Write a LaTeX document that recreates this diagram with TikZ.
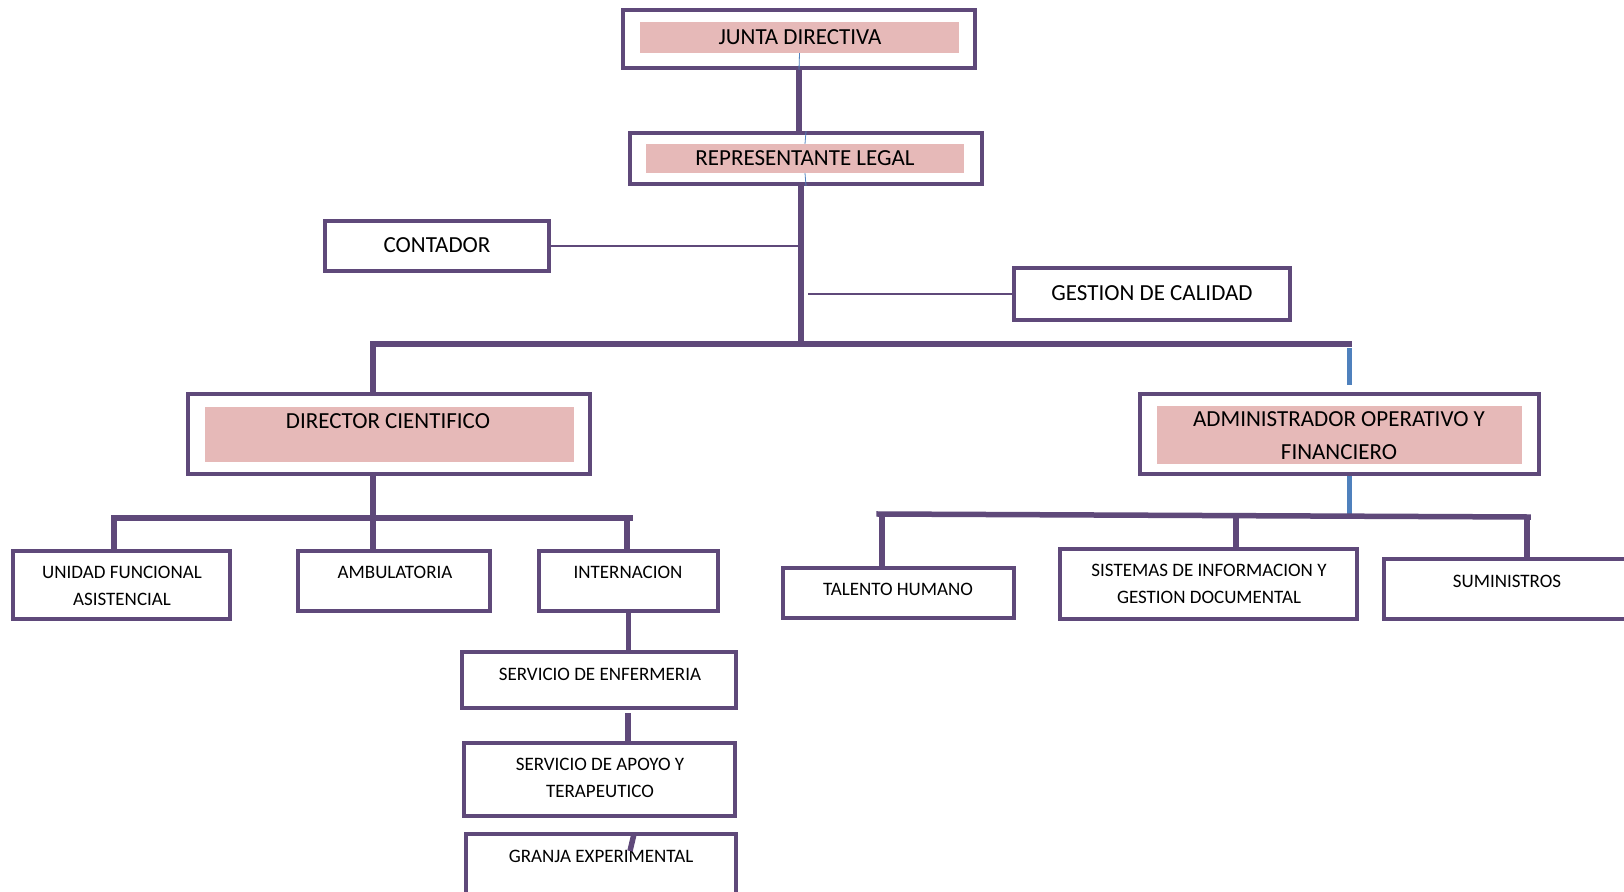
\documentclass[tikz,border=0pt]{standalone}
\usepackage{fontspec}
\setmainfont{Carlito}
\definecolor{purp}{HTML}{5F497A}
\definecolor{pinkf}{HTML}{E6B9B8}
\definecolor{bluec}{HTML}{4F81BD}
\begin{document}
\begin{tikzpicture}[x=1pt,y=-1pt,
  box/.style={draw=purp, line width=3.5pt, fill=white, inner sep=0pt},
  pinkbox/.style={fill=pinkf, draw=none, inner sep=0pt},
  big/.style={font=\fontsize{23}{31}\selectfont, inner sep=0pt, align=center},
  small/.style={font=\fontsize{19}{27}\selectfont, inner sep=0pt, align=center},
  conn/.style={draw=purp, line width=5.5pt},
  thinconn/.style={draw=purp, line width=1.6pt},
  blueconn/.style={draw=bluec, line width=5pt},
  bluethin/.style={draw=bluec, line width=0.8pt}]
\clip (0,0) rectangle (1624,891);
\fill[white] (0,0) rectangle (1624,891);

% top boxes
\node[box, minimum width=352pt, minimum height=58pt] (jd) at (799,39) {};
\node[pinkbox, minimum width=319pt, minimum height=31pt] (jdP) at (799.5,37.5) {};
\node[big] (jdT) at (800,37) {JUNTA DIRECTIVA};

\node[box, minimum width=352pt, minimum height=51pt] (rl) at (806,158.5) {};
\node[pinkbox, minimum width=318pt, minimum height=29pt] (rlP) at (805,158.5) {};
\node[big] (rlT) at (805,158) {REPRESENTANTE LEGAL};

\node[box, minimum width=224pt, minimum height=50pt] (cont) at (437,246) {};
\node[big] (contT) at (437,245) {CONTADOR};

\node[box, minimum width=276pt, minimum height=52pt] (gest) at (1152,294) {};
\node[big] (gestT) at (1152,293) {GESTION DE CALIDAD};

% second level
\node[box, minimum width=402pt, minimum height=80pt] (dc) at (389,434) {};
\node[pinkbox, minimum width=369pt, minimum height=55pt] (dcP) at (389.5,434.5) {};
\node[big] (dcT) at (388,421) {DIRECTOR CIENTIFICO};

\node[box, minimum width=399pt, minimum height=80pt] (aof) at (1339.5,434) {};
\node[pinkbox, minimum width=365pt, minimum height=58pt] (aofP) at (1339.5,435) {};
\node[big] (aofT1) at (1339,419) {ADMINISTRADOR OPERATIVO Y};
\node[big] (aofT2) at (1339,452) {FINANCIERO};

% third level left
\node[box, minimum width=217pt, minimum height=68pt] (ufa) at (121.5,585) {};
\node[small] (ufaT1) at (122,572) {UNIDAD FUNCIONAL};
\node[small] (ufaT2) at (122,599) {ASISTENCIAL};

\node[box, minimum width=192pt, minimum height=60pt] (amb) at (394,581) {};
\node[small] (ambT) at (395,572) {AMBULATORIA};

\node[box, minimum width=179pt, minimum height=60pt] (int) at (628.5,581) {};
\node[small] (intT) at (628,572) {INTERNACION};

\node[box, minimum width=274pt, minimum height=56pt] (sde) at (599,680) {};
\node[small] (sdeT) at (600,674) {SERVICIO DE ENFERMERIA};

\node[box, minimum width=271pt, minimum height=73pt] (sat) at (599.5,779.5) {};
\node[small] (satT1) at (600,764) {SERVICIO DE APOYO Y};
\node[small] (satT2) at (600,791) {TERAPEUTICO};

\node[box, minimum width=270pt, minimum height=71pt] (ge) at (601,869.5) {};
\node[small] (geT) at (601,856) {GRANJA EXPERIMENTAL};

% third level right
\node[box, minimum width=231pt, minimum height=50pt] (th) at (898.5,593) {};
\node[small] (thT) at (898,589) {TALENTO HUMANO};

\node[box, minimum width=297pt, minimum height=70pt] (sigd) at (1208.5,584) {};
\node[small] (sigdT1) at (1209,570) {SISTEMAS DE INFORMACION Y};
\node[small] (sigdT2) at (1209,597) {GESTION DOCUMENTAL};

\node[box, minimum width=256pt, minimum height=60pt] (sum) at (1512,589) {};
\node[small] (sumT) at (1507,581) {SUMINISTROS};

% coordinates
\coordinate (trk) at (801,184);
\coordinate (bar) at (801,344);
\coordinate (bl) at (373,344);
\coordinate (br) at (1349,344);
\coordinate (bs1) at (1349,348);
\coordinate (bs2) at (1349,385);
\coordinate (gq) at (808,294);
\coordinate (sbl) at (114,518);
\coordinate (sbr) at (627,518);
\coordinate (abl) at (879,514);
\coordinate (abr) at (1528,517);
\coordinate (thd) at (882,514);
\coordinate (sgd) at (1236,516);
\coordinate (smd) at (1527,516);
\coordinate (sdeb) at (628,713);
\coordinate (gtop) at (634,834);
\coordinate (gend) at (630,851);

% connectors
\draw[conn] (jd.south) -- (jd.south |- rl.north);
\draw[bluethin] (jdP.south) -- (jd.south);
\draw[bluethin] (rl.north) -- (rlP.north);
\draw[bluethin] (rlP.south) -- (rl.south);
\draw[conn] (trk) -- (bar);
\draw[thinconn] (cont.east) -- (cont.east -| bar);
\draw[thinconn] (gq) -- (gest.west);
\draw[conn, line cap=rect] (bl) -- (br);
\draw[conn] (bl) -- (bl |- dc.north);
\draw[blueconn] (bs1) -- (bs2);
\draw[conn] (bl |- dc.south) -- (bl |- amb.north);
\draw[conn, line cap=rect] (sbl) -- ([xshift=3pt]sbr);
\draw[conn] (sbl) -- (sbl |- ufa.north);
\draw[conn] (sbr) -- (sbr |- int.north);
\draw[conn] (int.south) -- (int.south |- sde.north);
\draw[conn] (sdeb) -- (sdeb |- sat.north);
\draw[conn] (gtop) -- (gend);
\draw[blueconn] (br |- aof.south) -- (br |- abl);
\draw[conn, line cap=rect] (abl) -- (abr);
\draw[conn] (thd) -- (thd |- th.north);
\draw[conn] (sgd) -- (sgd |- sigd.north);
\draw[conn] (smd) -- (smd |- sum.north);
\end{tikzpicture}
\end{document}
